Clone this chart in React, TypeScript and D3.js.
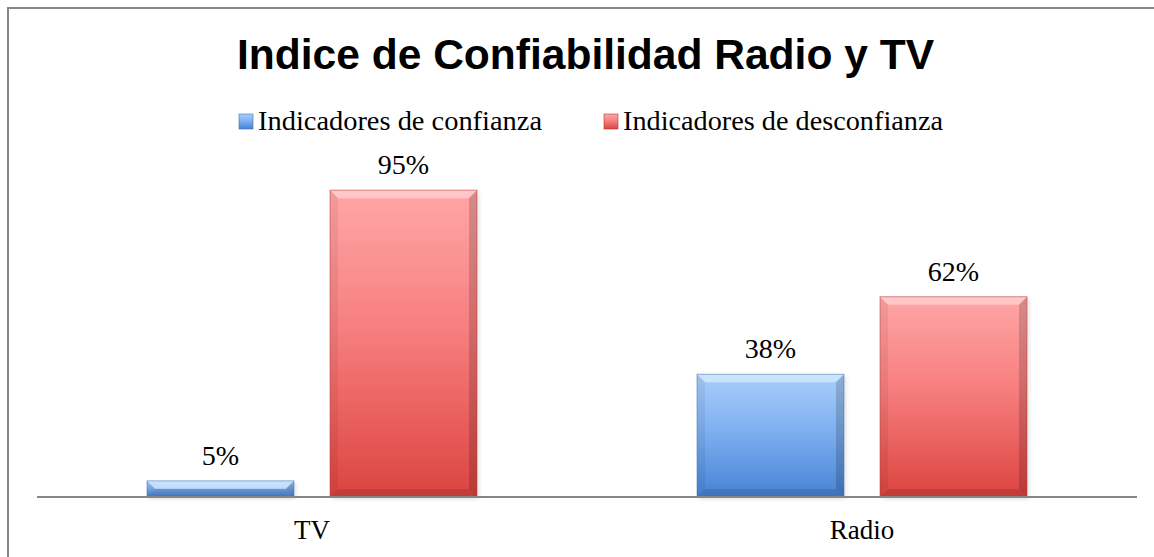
import React from "react";
import * as d3 from "d3";

const categories = ["TV", "Radio"];
const seriesNames = ["Indicadores de confianza", "Indicadores de desconfianza"];
const confianza = [0.05, 0.38];
const desconfianza = [0.95, 0.62];
const titleText = "Indice de Confiabilidad Radio y TV";

const W = 1154;
const H = 557;
const plotLeft = 37;
const plotRight = 1137;
const baseY = 497;
const topY = 174;

const palettes = [
  { top: "#a9cffb", mid: "#7fb0f0", bottom: "#4683d6", edge: "#3a6fb8", light: "#d6e9ff" },
  { top: "#ffa6a6", mid: "#f77f7f", bottom: "#dc4440", edge: "#b83532", light: "#ffd3d3" },
];

const legendLayout = [
  { x: 239, len: 284 },
  { x: 604, len: 320 },
];

function Bar({ x, y, w, h, idx }: { x: number; y: number; w: number; h: number; idx: number }) {
  const p = palettes[idx];
  const b = Math.min(8, h / 2);
  return (
    <g>
      <rect x={x + 2} y={y + 2} width={w} height={h} fill="#000" opacity={0.12} filter="url(#blur)" />
      <rect x={x} y={y} width={w} height={h} fill={`url(#grad${idx})`} />
      <polygon points={`${x},${y} ${x + w},${y} ${x + w - b},${y + b} ${x + b},${y + b}`} fill={p.light} opacity={0.75} />
      <polygon points={`${x},${y} ${x + b},${y + b} ${x + b},${y + h - b} ${x},${y + h}`} fill="#000" opacity={0.06} />
      <polygon points={`${x + w},${y} ${x + w - b},${y + b} ${x + w - b},${y + h - b} ${x + w},${y + h}`} fill="#000" opacity={0.16} />
      <polygon points={`${x},${y + h} ${x + b},${y + h - b} ${x + w - b},${y + h - b} ${x + w},${y + h}`} fill="#000" opacity={0.12} />
      <rect x={x} y={y} width={w} height={h} fill="none" stroke={p.edge} strokeOpacity={0.5} strokeWidth={1} />
    </g>
  );
}

export default function App() {
  const x0 = d3.scaleBand<string>().domain(categories).range([plotLeft, plotRight]).paddingInner(0.4).paddingOuter(0.2);
  const x1 = d3.scaleBand<string>().domain(seriesNames).range([0, x0.bandwidth()]).paddingInner(0.197);
  const y = d3.scaleLinear().domain([0, 1]).range([baseY, topY]);
  const series = [confianza, desconfianza];
  const fmt = d3.format(".0%");
  const serif = "'Liberation Serif', 'Times New Roman', serif";

  return (
    <svg width={W} height={H} style={{ position: "absolute", left: 0, top: 0, background: "#fff" }}>
      <defs>
        {palettes.map((p, i) => (
          <linearGradient key={i} id={`grad${i}`} x1="0" y1="0" x2="0" y2="1">
            <stop offset="0%" stopColor={p.top} />
            <stop offset="45%" stopColor={p.mid} />
            <stop offset="100%" stopColor={p.bottom} />
          </linearGradient>
        ))}
        <filter id="blur" x="-10%" y="-10%" width="120%" height="120%">
          <feGaussianBlur stdDeviation="2" />
        </filter>
      </defs>
      <rect x={0} y={0} width={W} height={H} fill="#fff" />
      <rect x={8} y={8} width={W + 20} height={H + 20} fill="none" stroke="#868686" strokeWidth={2} />

      <text x={237} y={69} textLength={697} lengthAdjust="spacingAndGlyphs" fontFamily="'Liberation Sans', Arial, sans-serif" fontWeight="bold" fontSize={43} fill="#000">
        {titleText}
      </text>

      {seriesNames.map((s, i) => {
        const { x: lx, len } = legendLayout[i];
        return (
          <g key={s}>
            <rect x={lx} y={114} width={14} height={15} fill={`url(#grad${i})`} stroke={palettes[i].edge} strokeOpacity={0.6} />
            <text x={lx + 19} y={130} textLength={len} lengthAdjust="spacingAndGlyphs" fontFamily={serif} fontSize={28} fill="#000">
              {s}
            </text>
          </g>
        );
      })}

      {categories.map((c, ci) =>
        seriesNames.map((s, si) => {
          const v = series[si][ci];
          const bx = (x0(c) as number) + (x1(s) as number);
          const bw = x1.bandwidth();
          const by = y(v);
          return (
            <g key={c + s}>
              <Bar x={bx} y={by} w={bw} h={baseY - by} idx={si} />
              <text x={bx + bw / 2} y={by - 16} textAnchor="middle" fontFamily={serif} fontSize={28} fill="#000">
                {fmt(v)}
              </text>
            </g>
          );
        })
      )}

      <line x1={plotLeft} x2={plotRight} y1={baseY} y2={baseY} stroke="#868686" strokeWidth={2} />
      {categories.map((c) => (
        <text key={c} x={(x0(c) as number) + x0.bandwidth() / 2} y={539} textAnchor="middle" fontFamily={serif} fontSize={27} fill="#000">
          {c}
        </text>
      ))}
    </svg>
  );
}
